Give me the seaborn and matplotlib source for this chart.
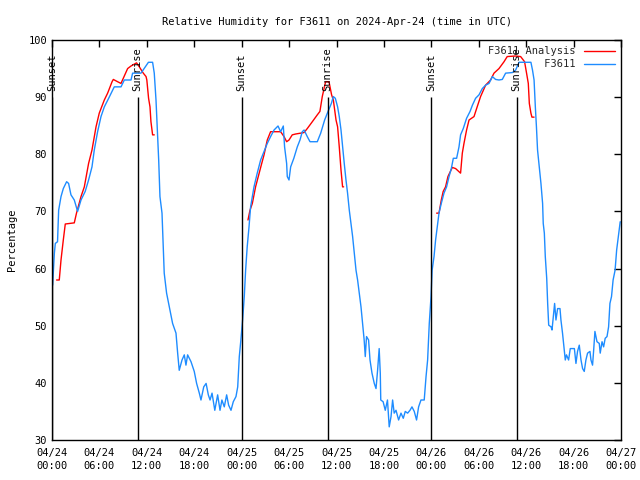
import matplotlib
matplotlib.use("Agg")
import matplotlib.pyplot as plt
import matplotlib.dates as mdates
from matplotlib.lines import Line2D
import seaborn as sns
import pandas as pd
import numpy as np

# Station observations (F3611), hours after 2024-04-24 00:00 UTC
obs_hours = [0.08, 0.3, 0.42, 0.7, 0.84, 1.14, 1.43, 1.85, 2.1, 2.4, 2.82, 3.24, 3.67, 4.2, 4.63,
             5.06, 5.35, 5.77, 6.2, 6.62, 7.17, 7.88, 8.73, 9.15, 10.0, 10.2, 11.26, 12.2, 12.73,
             12.94, 13.16, 13.36, 13.5, 13.66, 13.92, 14.08, 14.2, 14.5, 14.84, 15.26, 15.69, 15.9,
             16.1, 16.45, 16.74, 16.95, 17.16, 17.59, 18.0, 18.3, 18.64, 18.85, 19.2, 19.5, 19.78,
             20.0, 20.25, 20.6, 20.96, 21.26, 21.5, 21.8, 22.1, 22.35, 22.65, 22.94, 23.28, 23.5,
             23.7, 23.9, 24.12, 24.33, 24.5, 24.7, 24.93, 25.13, 25.56, 25.97, 26.4, 26.83, 27.24,
             27.66, 28.1, 28.6, 28.93, 29.27, 29.43, 29.69, 29.77, 29.99, 30.2, 30.6, 31.04, 31.38,
             31.67, 31.9, 32.3, 32.65, 33.57, 34.0, 34.5, 34.93, 35.35, 35.6, 35.85, 36.14, 36.35,
             36.57, 36.77, 36.98, 37.2, 37.4, 37.62, 37.83, 38.04, 38.25, 38.47, 38.67, 38.88, 39.1,
             39.3, 39.5, 39.64, 39.8, 40.06, 40.24, 40.49, 40.78, 41.0, 41.2, 41.4, 41.54, 41.6,
             41.9, 42.17, 42.45, 42.67, 42.9, 43.1, 43.3, 43.53, 43.86, 44.16, 44.45, 44.7, 45.0,
             45.3, 45.55, 45.84, 46.13, 46.39, 46.69, 47.1, 47.33, 47.53, 47.74, 47.96, 48.1, 48.34,
             48.54, 48.75, 48.97, 49.26, 49.6, 49.93, 50.24, 50.53, 50.78, 51.2, 51.5, 51.7, 52.04,
             52.46, 52.9, 53.2, 53.6, 54.03, 54.45, 54.87, 55.3, 55.72, 56.13, 56.56, 56.98, 57.4,
             58.25, 58.67, 59.1, 60.6, 60.8, 61.0, 61.16, 61.3, 61.44, 61.65, 61.87, 62.08, 62.16,
             62.3, 62.42, 62.6, 62.72, 62.85, 63.15, 63.27, 63.44, 63.6, 63.77, 63.98, 64.28, 64.4,
             64.6, 64.83, 64.95, 65.1, 65.37, 65.58, 66.1, 66.3, 66.5, 66.72, 66.94, 67.14, 67.35,
             67.56, 67.77, 68.07, 68.2, 68.4, 68.53, 68.7, 68.96, 69.25, 69.37, 69.6, 69.8, 70.0,
             70.23, 70.43, 70.6, 70.8, 71.0, 71.25, 71.45, 71.66, 71.9]
obs_rh = [57.1, 62.7, 64.4, 64.7, 70.2, 72.6, 74.0, 75.2, 74.9, 72.9, 72.0, 70.0, 72.0, 73.5, 75.5,
          77.8, 80.75, 83.95, 86.6, 88.3, 89.8, 91.8, 91.8, 93.0, 93.0, 94.2, 94.2, 96.1, 96.1,
          94.2, 89.5, 83.1, 79.0, 72.6, 69.7, 63.8, 59.2, 55.7, 53.3, 50.4, 48.7, 45.2,
          42.2, 44.0, 44.9, 43.1, 44.9, 43.7, 42.0, 39.9, 38.2, 37.0, 39.3, 39.9, 37.9,
          37.0, 38.2, 35.2, 37.9, 35.2, 37.0, 35.8, 37.9, 36.1, 35.2, 36.7, 37.6, 39.3,
          44.6, 47.5, 51.0, 55.1, 59.7, 63.8, 67.3, 70.8, 74.3, 76.7, 79.0, 80.5, 81.9,
          83.1, 84.25, 84.95, 83.95, 84.95, 81.3, 78.4, 76.1, 75.5, 77.8, 79.3, 81.3, 82.5,
          83.95, 84.25, 83.1, 82.2, 82.2, 83.7, 86.0, 87.5, 88.9, 90.1, 89.8, 88.3, 86.6,
          84.25, 81.3, 78.4, 75.5, 73.2, 70.2, 67.9, 65.6, 62.7, 59.7, 58.0, 55.7, 53.3,
          50.4, 47.5, 44.6, 48.1, 47.5, 44.0, 41.7, 39.9, 39.0, 42.2, 46.0, 41.7, 37.0,
          36.7, 35.2, 37.0, 32.3, 34.1, 37.0, 34.7, 35.2, 33.5, 34.7, 33.8, 35.0, 34.7,
          35.2, 35.8, 35.0, 33.5, 35.8, 37.0, 37.0, 41.1, 44.0, 50.4, 55.1, 59.7, 62.1,
          65.0, 67.3, 69.7, 71.4, 73.2, 74.3, 76.1, 77.5, 79.3, 79.3, 81.3, 83.4, 84.5,
          86.3, 87.5, 88.6, 89.8, 90.4, 91.5, 92.1, 92.4, 93.6, 93.1, 93.0, 93.1, 94.2,
          94.3, 94.75, 96.1, 96.1, 94.75, 93.0, 88.3, 84.8, 80.75, 77.8, 74.9, 71.4, 67.9,
          66.2, 62.1, 58.3, 53.9, 50.1, 49.8, 49.25, 51.6, 53.9, 51.0, 53.0, 53.0, 51.0,
          48.7, 45.5, 44.0, 44.9, 44.0, 46.0, 46.0, 43.4, 45.5, 46.6, 44.0, 42.5, 42.0,
          44.0, 45.2, 45.5, 44.0, 43.1, 45.5, 49.0, 47.2, 46.9, 45.2, 47.2, 46.3, 47.8,
          48.1, 49.8, 53.9, 55.1, 58.0, 59.7, 63.25, 65.6, 68.2]

# Analysis (F3611 Analysis), one segment per day
ana_hours_1 = [0.58, 0.92, 1.14, 1.43, 1.68, 2.82, 3.1, 3.67, 4.09, 4.63, 5.06, 5.57, 5.98, 6.62,
               7.04, 7.6, 7.76, 8.3, 8.73, 9.02, 9.57, 10.0, 10.7, 11.05, 11.55, 11.9, 12.0,
               12.22, 12.4, 12.52, 12.73, 12.94]
ana_rh_1 = [58.0, 58.0, 61.5, 65.0, 67.8, 68.0, 69.7, 72.6, 74.3, 78.4, 80.75, 84.8, 87.2, 89.5,
            90.7, 92.7, 93.1, 92.7, 92.4, 93.3, 95.0, 95.45, 96.0, 95.3, 94.2, 93.6, 93.0,
            89.8, 88.3, 85.7, 83.4, 83.4]
ana_hours_2 = [24.8, 25.05, 25.35, 25.76, 26.48, 26.83, 27.24, 27.66, 28.93, 29.36, 29.69, 29.99,
               30.4, 30.83, 31.89, 32.3, 32.94, 33.57, 33.9, 34.2, 34.62, 35.05, 35.38, 35.6,
               35.94, 36.14, 36.35, 36.57, 36.77, 36.9]
ana_rh_2 = [68.5, 70.2, 71.4, 74.3, 78.1, 79.9, 82.5, 83.95, 83.95, 83.1, 82.2, 82.5,
            83.4, 83.55, 83.8, 84.5, 85.7, 86.9, 87.5, 90.1, 92.7, 92.7, 90.4, 89.5,
            86.0, 84.8, 81.3, 77.25, 74.3, 74.3]
ana_hours_3 = [48.67, 48.97, 49.26, 49.5, 49.8, 50.1, 50.65, 51.07, 51.7, 51.92, 52.13, 52.46,
               52.77, 53.4, 53.8, 54.23, 54.87, 55.5, 55.93, 56.56, 57.2, 57.6, 58.67, 59.3,
               59.8, 60.05, 60.27, 60.4, 60.6, 60.73, 61.0]
ana_rh_3 = [69.7, 69.7, 72.0, 73.5, 74.3, 76.1, 77.7, 77.5, 76.7, 80.2, 81.9, 84.25,
            86.0, 86.6, 88.3, 90.1, 92.1, 93.0, 94.2, 95.0, 96.2, 97.1, 97.2, 97.1,
            96.2, 94.2, 92.4, 88.9, 87.2, 86.5, 86.5]

# Sunrise / sunset markers (hours after start)
sun_hours = [0.0, 10.83, 23.99, 34.87, 47.96, 58.79]
sun_labels = ["Sunset", "Sunrise", "Sunset", "Sunrise", "Sunset", "Sunrise"]

series_names = ["F3611 Analysis", "F3611"]
series_colors = ["#ff0000", "#1e8cff"]

start = pd.Timestamp("2024-04-24 00:00")
to_time = lambda h: start + pd.to_timedelta(np.asarray(h), unit="h")

obs = pd.DataFrame({"time": to_time(obs_hours), "rh": obs_rh})
ana = pd.concat([
    pd.DataFrame({"time": to_time(h), "rh": v, "seg": i})
    for i, (h, v) in enumerate([(ana_hours_1, ana_rh_1), (ana_hours_2, ana_rh_2),
                                (ana_hours_3, ana_rh_3)])
])

sns.set_theme(style="white")
plt.rcParams["font.family"] = ["DejaVu Sans Mono"]
mono = 7.5

fig = plt.figure(figsize=(6.4, 4.8), dpi=100)
ax = fig.add_axes([52 / 640, 40 / 480, 569 / 640, 400 / 480])

sns.lineplot(data=ana, x="time", y="rh", units="seg", estimator=None, color=series_colors[0],
             linewidth=1.0, ax=ax, legend=False)
sns.lineplot(data=obs, x="time", y="rh", color=series_colors[1], linewidth=1.0, ax=ax,
             legend=False)

sun_times = to_time(sun_hours)
ax.vlines(sun_times, 30, 90, color="black", linewidth=1.0)
for t, lab in zip(sun_times, sun_labels):
    ax.text(t, 91, lab, rotation=90, ha="center", va="bottom", fontsize=mono, color="black")

ax.set_xlim(start, start + pd.Timedelta(hours=72))
ax.set_ylim(30, 100)
ax.xaxis.set_major_locator(mdates.HourLocator(byhour=[0, 6, 12, 18]))
ax.xaxis.set_major_formatter(mdates.DateFormatter("%m/%d\n%H:%M"))
ax.set_yticks(range(30, 101, 10))
ax.tick_params(direction="in", length=5, width=1, top=True, right=True,
               labelsize=mono, colors="black")
ax.tick_params(axis="x", pad=6)
for lbl in ax.get_xticklabels():
    lbl.set_linespacing(1.35)
for s in ax.spines.values():
    s.set_color("black")
    s.set_linewidth(1.0)

ax.set_xlabel("")
ax.set_ylabel("Percentage", fontsize=mono, color="black")
ax.yaxis.set_label_coords(-0.062, 0.5)
ax.set_title("Relative Humidity for F3611 on 2024-Apr-24 (time in UTC)", fontsize=mono,
             color="black", pad=11)

# gnuplot-style key: right-aligned text followed by the line sample
width = max(len(n) for n in series_names)
handles = [Line2D([], [], color=c, linewidth=1.0) for c in series_colors]
labels = [n.rjust(width) for n in series_names]
ax.legend(handles, labels, loc="upper right", frameon=False, markerfirst=False, fontsize=mono,
          handlelength=3.0, handletextpad=0.8, labelspacing=0.3, borderaxespad=0.2)

fig.savefig("out.png", dpi=100)
